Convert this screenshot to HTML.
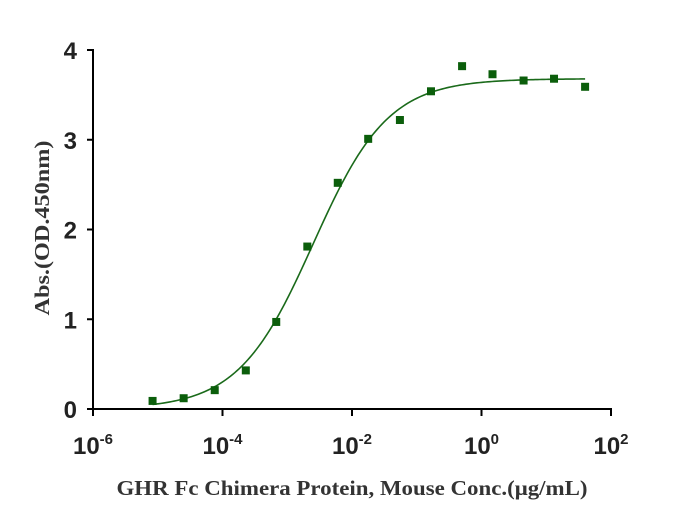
<!DOCTYPE html>
<html><head><meta charset="utf-8"><style>
html,body{margin:0;padding:0;background:#fff;}
svg{display:block;}
</style></head><body>
<svg id="chart" width="692" height="523" xmlns="http://www.w3.org/2000/svg"></svg>
<script>
// data (log10 concentration, absorbance)
const logConc = [-5.08,-4.60,-4.12,-3.64,-3.17,-2.69,-2.22,-1.75,-1.26,-0.78,-0.30,0.17,0.65,1.12,1.60];
const absorbance = [0.09,0.12,0.21,0.43,0.97,1.81,2.52,3.01,3.22,3.54,3.82,3.73,3.66,3.68,3.59];
const fitParams = [0.0, 3.68, -2.6, 0.75]; // bottom, top, logEC50, hill
const xTickExps = [-6,-4,-2,0,2];
const yTicks = [0,1,2,3,4];

const NS="http://www.w3.org/2000/svg";
const svg=document.getElementById('chart');
const X0=93,X1=611,Y0=409,Y1=50;
const xs=v=>X0+(v-(-6))/(8)*(X1-X0);
const ys=v=>Y0-(v/4)*(Y0-Y1);
function mk(tag,attrs,parent){const e=document.createElementNS(NS,tag);for(const k in attrs)e.setAttribute(k,attrs[k]);(parent||svg).appendChild(e);return e;}

let yAxis=mk('line',{x1:X0,y1:Y1-1,x2:X0,y2:Y0+1,stroke:'#000','stroke-width':2});


let xAxis=mk('line',{x1:X0-1,y1:Y0,x2:X1+1,y2:Y0,stroke:'#000','stroke-width':2});



yTicks.forEach(t=>{
  const y=ys(t);
  const tk=mk('line',{x1:X0-6,y1:y,x2:X0,y2:y,stroke:'#000','stroke-width':2});
  
  
  const lb=mk('text',{x:X0-16,y:y+9,'text-anchor':'end','font-family':'Liberation Sans, sans-serif','font-weight':'bold','font-size':24,fill:'#222'});
  lb.textContent=t;
  
  
});
xTickExps.forEach(e=>{
  const x=xs(e);
  const tk=mk('line',{x1:x,y1:Y0,x2:x,y2:Y0+7,stroke:'#000','stroke-width':2});
  
  
  const lb=mk('text',{x:x,y:454,'text-anchor':'middle','font-family':'Liberation Sans, sans-serif','font-weight':'bold','font-size':24,fill:'#222'});
  
  
  lb.appendChild(document.createTextNode('10'));
  const sp=document.createElementNS(NS,'tspan');
  sp.setAttribute('dy','-10');sp.setAttribute('font-size','15');
  sp.textContent=String(e);
  lb.appendChild(sp);
});

const [B,T,C,H]=fitParams;
const f=l=>B+(T-B)/(1+Math.pow(10,(C-l)*H));
let d='';
const lmin=logConc[0],lmax=logConc[logConc.length-1];
for(let i=0;i<=200;i++){const l=lmin+(lmax-lmin)*i/200;d+=(i?'L':'M')+xs(l).toFixed(2)+','+ys(f(l)).toFixed(2);}
const curve=mk('path',{d:d,fill:'none',stroke:'#1a6a1a','stroke-width':1.6});



logConc.forEach((l,i)=>{
  const p=mk('rect',{x:xs(l)-4,y:ys(absorbance[i])-4,width:8,height:8,fill:'#0b5e0b'});
  
  
});

const yt=mk('text',{x:0,y:0,transform:'translate(49,228) rotate(-90)','text-anchor':'middle','font-family':'Liberation Serif, serif','font-weight':'bold','font-size':21,fill:'#333',textLength:175,lengthAdjust:'spacingAndGlyphs'});
yt.textContent='Abs.(OD.450nm)';


const xt=mk('text',{x:352,y:495,'text-anchor':'middle','font-family':'Liberation Serif, serif','font-weight':'bold','font-size':21,fill:'#333',textLength:471,lengthAdjust:'spacingAndGlyphs'});
xt.textContent='GHR Fc Chimera Protein, Mouse Conc.(μg/mL)';


</script>
</body></html>
